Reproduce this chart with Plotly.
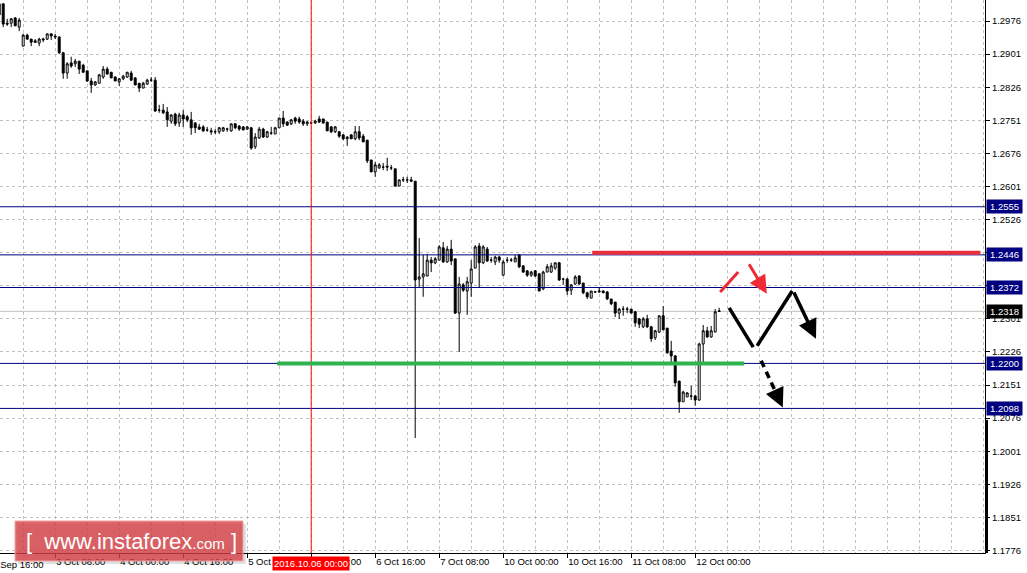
import plotly.graph_objects as go

# H1 bars, numbered from 30 Sep 16:00 (bar 0); weekend hours skipped
first_bar = 2

opens = [
    1.3015, 1.3015, 1.2971, 1.2971, 1.2983, 1.2962, 1.2919, 1.2944, 1.2935, 1.2931,
    1.2926, 1.2933, 1.2935, 1.2947, 1.2942, 1.2940, 1.2904, 1.2858, 1.2881, 1.2879,
    1.2885, 1.2876, 1.2863, 1.2840, 1.2831, 1.2835, 1.2849, 1.2867, 1.2860, 1.2849,
    1.2838, 1.2845, 1.2849, 1.2858, 1.2847, 1.2835, 1.2824, 1.2833, 1.2842, 1.2842,
    1.2774, 1.2774, 1.2770, 1.2749, 1.2765, 1.2745, 1.2763, 1.2759, 1.2752, 1.2745,
    1.2736, 1.2736, 1.2729, 1.2727, 1.2725, 1.2725, 1.2727, 1.2731, 1.2727, 1.2743,
    1.2738, 1.2736, 1.2731, 1.2734, 1.2691, 1.2711, 1.2731, 1.2713, 1.2722, 1.2720,
    1.2734, 1.2756, 1.2747, 1.2743, 1.2756, 1.2754, 1.2749, 1.2743, 1.2745, 1.2745,
    1.2754, 1.2754, 1.2747, 1.2736, 1.2725, 1.2725, 1.2718, 1.2709, 1.2718, 1.2709,
    1.2725, 1.2715, 1.2706, 1.2661, 1.2634, 1.2643, 1.2645, 1.2647, 1.2643, 1.2641,
    1.2602, 1.2616, 1.2616, 1.2616, 1.2613, 1.2391, 1.2396, 1.2398, 1.2434, 1.2428,
    1.2434, 1.2462, 1.2430, 1.2459, 1.2437, 1.2314, 1.2378, 1.2364, 1.2382, 1.2416,
    1.2466, 1.2428, 1.2459, 1.2434, 1.2430, 1.2441, 1.2400, 1.2434, 1.2434, 1.2430,
    1.2446, 1.2421, 1.2410, 1.2400, 1.2410, 1.2403, 1.2369, 1.2407, 1.2407, 1.2416,
    1.2428, 1.2391, 1.2391, 1.2366, 1.2380, 1.2398, 1.2382, 1.2360, 1.2348, 1.2362,
    1.2362, 1.2364, 1.2362, 1.2346, 1.2339, 1.2314, 1.2323, 1.2323, 1.2323, 1.2317,
    1.2301, 1.2283, 1.2301, 1.2283, 1.2258, 1.2271, 1.2308, 1.2280, 1.2228, 1.2217,
    1.2160, 1.2113, 1.2124, 1.2126, 1.2126, 1.2117, 1.2244, 1.2274, 1.2260, 1.2271,
    1.2319,
]
highs = [
    1.3017, 1.3015, 1.2981, 1.2983, 1.2985, 1.2983, 1.2947, 1.2947, 1.2935, 1.2935,
    1.2938, 1.2938, 1.2947, 1.2947, 1.2947, 1.2940, 1.2906, 1.2883, 1.2895, 1.2890,
    1.2885, 1.2879, 1.2863, 1.2847, 1.2840, 1.2856, 1.2874, 1.2872, 1.2860, 1.2851,
    1.2847, 1.2854, 1.2860, 1.2863, 1.2849, 1.2835, 1.2838, 1.2845, 1.2849, 1.2849,
    1.2786, 1.2788, 1.2781, 1.2765, 1.2768, 1.2768, 1.2774, 1.2763, 1.2770, 1.2747,
    1.2743, 1.2740, 1.2736, 1.2734, 1.2731, 1.2736, 1.2736, 1.2734, 1.2743, 1.2745,
    1.2740, 1.2738, 1.2738, 1.2736, 1.2722, 1.2736, 1.2734, 1.2727, 1.2736, 1.2736,
    1.2756, 1.2772, 1.2749, 1.2754, 1.2759, 1.2759, 1.2754, 1.2749, 1.2747, 1.2752,
    1.2761, 1.2754, 1.2747, 1.2738, 1.2738, 1.2727, 1.2718, 1.2715, 1.2718, 1.2738,
    1.2738, 1.2720, 1.2706, 1.2661, 1.2657, 1.2654, 1.2654, 1.2666, 1.2650, 1.2641,
    1.2616, 1.2623, 1.2623, 1.2623, 1.2613, 1.2484, 1.2446, 1.2448, 1.2441, 1.2441,
    1.2468, 1.2475, 1.2466, 1.2480, 1.2437, 1.2396, 1.2382, 1.2396, 1.2434, 1.2468,
    1.2473, 1.2468, 1.2464, 1.2441, 1.2444, 1.2444, 1.2434, 1.2441, 1.2439, 1.2446,
    1.2448, 1.2423, 1.2410, 1.2410, 1.2410, 1.2405, 1.2410, 1.2425, 1.2428, 1.2428,
    1.2430, 1.2394, 1.2394, 1.2380, 1.2400, 1.2400, 1.2382, 1.2362, 1.2364, 1.2364,
    1.2373, 1.2366, 1.2364, 1.2346, 1.2339, 1.2326, 1.2330, 1.2328, 1.2323, 1.2319,
    1.2303, 1.2305, 1.2310, 1.2285, 1.2276, 1.2308, 1.2330, 1.2280, 1.2251, 1.2219,
    1.2160, 1.2138, 1.2135, 1.2149, 1.2129, 1.2247, 1.2287, 1.2283, 1.2285, 1.2323,
    1.2326,
]
lows = [
    1.2987, 1.2962, 1.2965, 1.2962, 1.2965, 1.2953, 1.2919, 1.2933, 1.2919, 1.2926,
    1.2919, 1.2928, 1.2933, 1.2933, 1.2935, 1.2901, 1.2845, 1.2845, 1.2870, 1.2872,
    1.2856, 1.2858, 1.2838, 1.2813, 1.2829, 1.2835, 1.2845, 1.2854, 1.2847, 1.2840,
    1.2829, 1.2842, 1.2847, 1.2840, 1.2831, 1.2815, 1.2824, 1.2831, 1.2838, 1.2770,
    1.2768, 1.2765, 1.2736, 1.2743, 1.2738, 1.2736, 1.2736, 1.2747, 1.2718, 1.2722,
    1.2729, 1.2725, 1.2725, 1.2718, 1.2720, 1.2720, 1.2725, 1.2725, 1.2725, 1.2731,
    1.2727, 1.2729, 1.2729, 1.2684, 1.2686, 1.2709, 1.2711, 1.2711, 1.2718, 1.2720,
    1.2734, 1.2736, 1.2738, 1.2740, 1.2743, 1.2743, 1.2738, 1.2738, 1.2743, 1.2743,
    1.2745, 1.2743, 1.2727, 1.2722, 1.2722, 1.2711, 1.2706, 1.2693, 1.2709, 1.2706,
    1.2706, 1.2702, 1.2654, 1.2634, 1.2623, 1.2641, 1.2638, 1.2636, 1.2638, 1.2600,
    1.2602, 1.2611, 1.2609, 1.2611, 1.2031, 1.2373, 1.2351, 1.2398, 1.2407, 1.2425,
    1.2434, 1.2428, 1.2428, 1.2423, 1.2312, 1.2226, 1.2362, 1.2310, 1.2351, 1.2416,
    1.2373, 1.2425, 1.2430, 1.2428, 1.2423, 1.2428, 1.2398, 1.2428, 1.2430, 1.2430,
    1.2416, 1.2405, 1.2396, 1.2396, 1.2396, 1.2364, 1.2366, 1.2407, 1.2405, 1.2412,
    1.2387, 1.2378, 1.2355, 1.2355, 1.2378, 1.2378, 1.2357, 1.2346, 1.2348, 1.2360,
    1.2360, 1.2360, 1.2344, 1.2332, 1.2305, 1.2301, 1.2308, 1.2314, 1.2314, 1.2283,
    1.2280, 1.2280, 1.2280, 1.2249, 1.2253, 1.2269, 1.2276, 1.2222, 1.2201, 1.2147,
    1.2088, 1.2113, 1.2124, 1.2117, 1.2104, 1.2115, 1.2201, 1.2258, 1.2258, 1.2271,
    1.2317,
]
closes = [
    1.2990, 1.2969, 1.2969, 1.2981, 1.2965, 1.2978, 1.2944, 1.2935, 1.2928, 1.2928,
    1.2935, 1.2935, 1.2947, 1.2942, 1.2940, 1.2904, 1.2858, 1.2879, 1.2874, 1.2885,
    1.2867, 1.2860, 1.2840, 1.2831, 1.2838, 1.2854, 1.2867, 1.2856, 1.2847, 1.2840,
    1.2845, 1.2851, 1.2860, 1.2842, 1.2831, 1.2824, 1.2835, 1.2842, 1.2842, 1.2772,
    1.2774, 1.2768, 1.2752, 1.2763, 1.2743, 1.2763, 1.2754, 1.2752, 1.2734, 1.2734,
    1.2731, 1.2727, 1.2729, 1.2725, 1.2725, 1.2734, 1.2734, 1.2731, 1.2743, 1.2734,
    1.2731, 1.2729, 1.2736, 1.2688, 1.2713, 1.2731, 1.2713, 1.2725, 1.2722, 1.2734,
    1.2756, 1.2743, 1.2740, 1.2752, 1.2749, 1.2747, 1.2743, 1.2747, 1.2745, 1.2749,
    1.2747, 1.2745, 1.2727, 1.2725, 1.2736, 1.2715, 1.2709, 1.2713, 1.2709, 1.2725,
    1.2711, 1.2702, 1.2659, 1.2634, 1.2650, 1.2650, 1.2645, 1.2645, 1.2643, 1.2602,
    1.2616, 1.2616, 1.2616, 1.2613, 1.2389, 1.2396, 1.2403, 1.2434, 1.2428, 1.2437,
    1.2464, 1.2430, 1.2459, 1.2432, 1.2314, 1.2380, 1.2366, 1.2385, 1.2414, 1.2464,
    1.2428, 1.2464, 1.2432, 1.2434, 1.2441, 1.2434, 1.2430, 1.2434, 1.2434, 1.2439,
    1.2419, 1.2407, 1.2400, 1.2407, 1.2398, 1.2364, 1.2407, 1.2419, 1.2421, 1.2428,
    1.2389, 1.2391, 1.2364, 1.2378, 1.2396, 1.2380, 1.2360, 1.2351, 1.2364, 1.2362,
    1.2364, 1.2360, 1.2346, 1.2335, 1.2314, 1.2323, 1.2323, 1.2323, 1.2314, 1.2292,
    1.2289, 1.2301, 1.2283, 1.2256, 1.2274, 1.2308, 1.2276, 1.2224, 1.2217, 1.2156,
    1.2113, 1.2135, 1.2133, 1.2126, 1.2117, 1.2244, 1.2274, 1.2260, 1.2274, 1.2317,
    1.2318,
]

tick_bars = [16, 32, 48, 64, 80, 96, 112, 128, 144, 160, 176]
tick_labels = ["3 Oct 08:00", "4 Oct 00:00", "4 Oct 16:00", "5 Oct 08:00", "6 Oct 00:00",
               "6 Oct 16:00", "7 Oct 08:00", "10 Oct 00:00", "10 Oct 16:00",
               "11 Oct 08:00", "12 Oct 00:00"]
grid_bars = list(range(0, 256, 8))
first_label = "30 Sep 16:00"
marked_bar = 80
marked_label = "2016.10.06 00:00"

price_ticks = [1.1776, 1.1851, 1.1926, 1.2001, 1.2076, 1.2151, 1.2226, 1.2301, 1.2376,
               1.2451, 1.2526, 1.2601, 1.2676, 1.2751, 1.2826, 1.2901, 1.2976]
levels = [1.2555, 1.2446, 1.2372, 1.2200, 1.2098]
bid = 1.2318

resistance = dict(price=1.2451, start=150.25, end=247.3)
support = dict(price=1.2200, start=71.5, end=188.25)

# forecast sketch (bar, price)
red_stroke = [(182.25, 1.2362), (186.75, 1.2407)]
red_arrow = [(189.25, 1.2428), (193.9, 1.2358)]
black_path = [(184.5, 1.2326), (190.5, 1.2237), (191.5, 1.2240), (200.25, 1.2364)]
black_arrow = [(200.5, 1.2364), (206.2, 1.2256)]
dashed_arrow = [(192.5, 1.2206), (197.9, 1.2100)]

X_RANGE = [2.2, 248.45]
Y_RANGE = [1.17703, 1.30236]
NAVY = "#000080"
GRID = "#c0c0c0"
FONT = "Liberation Sans"
PLOT_W = 985  # plot area width in px (for paper-coordinate placement)
PLOT_H = 553

bars = list(range(first_bar, first_bar + len(opens)))

fig = go.Figure()
fig.add_trace(go.Candlestick(
    x=bars, open=opens, high=highs, low=lows, close=closes,
    increasing=dict(line=dict(color="black", width=1), fillcolor="white"),
    decreasing=dict(line=dict(color="black", width=1), fillcolor="black"),
    whiskerwidth=0, hoverinfo="skip", showlegend=False,
))

shapes = []
# level lines
for lv in levels:
    shapes.append(dict(type="line", xref="paper", x0=0, x1=1, yref="y", y0=lv, y1=lv,
                       line=dict(color=NAVY, width=1)))
shapes.append(dict(type="line", xref="paper", x0=0, x1=1, yref="y", y0=bid, y1=bid,
                   line=dict(color=GRID, width=1), layer="below"))
# marked time line
shapes.append(dict(type="line", xref="x", x0=marked_bar, x1=marked_bar, yref="paper", y0=0, y1=1,
                   line=dict(color="red", width=1)))
# resistance / support
shapes.append(dict(type="line", xref="x", x0=resistance["start"], x1=resistance["end"], yref="y",
                   y0=resistance["price"], y1=resistance["price"], line=dict(color="#e8303c", width=4)))
shapes.append(dict(type="line", xref="x", x0=support["start"], x1=support["end"], yref="y",
                   y0=support["price"], y1=support["price"], line=dict(color="#2fb34f", width=4)))
# forecast strokes
shapes.append(dict(type="line", x0=red_stroke[0][0], y0=red_stroke[0][1], x1=red_stroke[1][0],
                   y1=red_stroke[1][1], line=dict(color="#ee2a35", width=3)))
for a, b in [(black_path[0], black_path[1]), (black_path[2], black_path[3])]:
    shapes.append(dict(type="line", x0=a[0], y0=a[1], x1=b[0], y1=b[1],
                       line=dict(color="black", width=3.5)))
shapes.append(dict(type="line", x0=dashed_arrow[0][0], y0=dashed_arrow[0][1],
                   x1=dashed_arrow[0][0] + 0.8 * (dashed_arrow[1][0] - dashed_arrow[0][0]),
                   y1=dashed_arrow[0][1] + 0.8 * (dashed_arrow[1][1] - dashed_arrow[0][1]),
                   line=dict(color="black", width=3.5, dash="7px,5px")))
# right-edge scroll marker
shapes.append(dict(type="line", xref="paper", x0=1.0015, x1=1.0015, yref="y", y0=1.2072, y1=Y_RANGE[0],
                   line=dict(color="black", width=3)))
# logo
shapes.append(dict(type="rect", xref="paper", yref="paper", x0=18 / PLOT_W, x1=246 / PLOT_W,
                   y0=(PLOT_H - 564) / PLOT_H, y1=(PLOT_H - 524) / PLOT_H,
                   fillcolor="rgba(0,0,0,0.12)", line=dict(width=0)))
shapes.append(dict(type="rect", xref="paper", yref="paper", x0=15 / PLOT_W, x1=243 / PLOT_W,
                   y0=(PLOT_H - 561) / PLOT_H, y1=(PLOT_H - 521) / PLOT_H,
                   fillcolor="rgba(214,62,68,0.80)", line=dict(color="rgba(240,165,165,1)", width=1)))

annotations = []
# arrows
annotations.append(dict(x=red_arrow[1][0], y=red_arrow[1][1], ax=red_arrow[0][0], ay=red_arrow[0][1],
                        axref="x", ayref="y", xref="x", yref="y", text="", showarrow=True,
                        arrowhead=2, arrowsize=1.2, arrowwidth=3, arrowcolor="#ee2a35", standoff=0))
annotations.append(dict(x=black_arrow[1][0], y=black_arrow[1][1], ax=black_arrow[0][0], ay=black_arrow[0][1],
                        axref="x", ayref="y", xref="x", yref="y", text="", showarrow=True,
                        arrowhead=2, arrowsize=1.1, arrowwidth=3.5, arrowcolor="black", standoff=0))
annotations.append(dict(x=dashed_arrow[1][0], y=dashed_arrow[1][1],
                        ax=dashed_arrow[0][0] + 0.75 * (dashed_arrow[1][0] - dashed_arrow[0][0]),
                        ay=dashed_arrow[0][1] + 0.75 * (dashed_arrow[1][1] - dashed_arrow[0][1]),
                        axref="x", ayref="y", xref="x", yref="y", text="", showarrow=True,
                        arrowhead=2, arrowsize=1.1, arrowwidth=3.5, arrowcolor="black", standoff=0))
# price tags
for lv in levels:
    annotations.append(dict(xref="paper", x=1, xanchor="left", xshift=1, yref="y", y=lv,
                            text=f"{lv:.4f}", showarrow=False, bgcolor=NAVY, width=33, height=11,
                            borderpad=1, font=dict(family=FONT, size=9.5, color="white")))
annotations.append(dict(xref="paper", x=1, xanchor="left", xshift=1, yref="y", y=bid,
                        text=f"{bid:.4f}", showarrow=False, bgcolor="black", width=33, height=11,
                        borderpad=1, font=dict(family=FONT, size=9.5, color="white")))
# first (clipped) time label, left of the visible range
annotations.append(dict(xref="paper", x=0, xanchor="left", xshift=-15, yref="paper", y=0,
                        yanchor="top", yshift=-4, text=first_label, showarrow=False,
                        font=dict(family=FONT, size=9.5, color="black")))
# marked time label
annotations.append(dict(xref="x", x=marked_bar, xanchor="center", yref="paper", y=0, yanchor="top",
                        yshift=-3, text=marked_label, showarrow=False, bgcolor="#ff0000",
                        borderpad=1, font=dict(family=FONT, size=9.5, color="white")))
# logo text
annotations.append(dict(xref="paper", yref="paper", x=131 / PLOT_W, y=(PLOT_H - 541) / PLOT_H,
                        xanchor="center", yanchor="middle", showarrow=False,
                        text="[  www.instaforex<span style='font-size:15px'>.com</span> ]",
                        font=dict(family=FONT, size=22, color="white")))

fig.update_layout(
    width=1027, height=573,
    margin=dict(l=0, r=42, t=0, b=20, autoexpand=False),
    paper_bgcolor="white", plot_bgcolor="white",
    showlegend=False, shapes=shapes, annotations=annotations,
    xaxis=dict(
        range=X_RANGE, rangeslider=dict(visible=False), tickmode="array",
        tickvals=tick_bars, ticktext=tick_labels, ticks="outside", ticklen=4, tickcolor="black",
        ticklabelposition="outside right",
        tickfont=dict(family=FONT, size=9.5, color="black"),
        showline=True, linecolor="black", linewidth=1, zeroline=False,
        showgrid=True, gridcolor=GRID, griddash="3px,3px", gridwidth=1,
        minor=dict(tickmode="array", tickvals=grid_bars, showgrid=True, gridcolor=GRID,
                   griddash="3px,3px", ticks=""),
    ),
    yaxis=dict(
        range=Y_RANGE, side="right", tickmode="array", tickvals=price_ticks,
        ticktext=[f"{p:.4f}" for p in price_ticks], ticks="outside", ticklen=4, tickcolor="black",
        tickfont=dict(family=FONT, size=9.5, color="black"),
        showline=True, linecolor="black", linewidth=1, zeroline=False,
        showgrid=True, gridcolor=GRID, griddash="3px,3px", gridwidth=1,
    ),
)

fig.write_html(
    "out.html",
    config={"displayModeBar": False},
    post_script="document.body.style.margin='0';document.body.style.overflow='hidden';",
)
